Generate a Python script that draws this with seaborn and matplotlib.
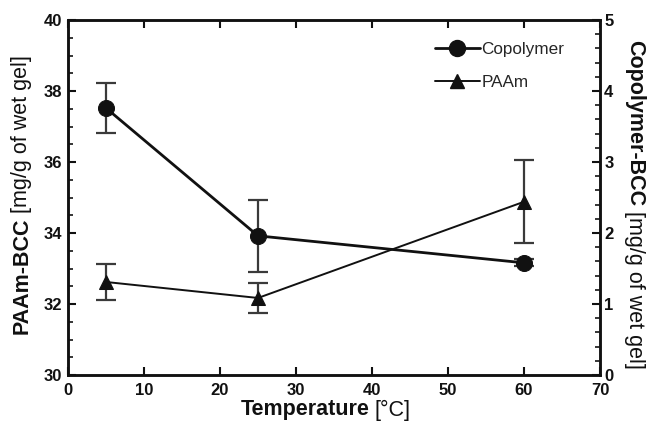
import matplotlib
matplotlib.use("Agg")
import matplotlib.pyplot as plt
import matplotlib.transforms as mtransforms
import seaborn as sns
import pandas as pd
from matplotlib.ticker import MultipleLocator
from matplotlib.lines import Line2D

sns.set_style("white")
plt.rcParams['font.family'] = ['Liberation Sans', 'DejaVu Sans']

temperature = [5, 25, 60]
paam = [32.62, 32.17, 34.88]
paam_err = [0.52, 0.42, 1.17]
copolymer = [3.76, 1.96, 1.58]
copolymer_err = [0.35, 0.51, 0.05]

df = pd.DataFrame({"T": temperature, "PAAm": paam, "Copolymer": copolymer})

W, H = 648, 428
fig = plt.figure(figsize=(W / 100, H / 100), dpi=100)
L, R, T, B = 68, 600, 20, 375
ax = fig.add_axes([L / W, 1 - B / H, (R - L) / W, (B - T) / H])
ax2 = ax.twinx()

col = "#111111"
ecol = "#3a3a3a"

# PAAm on left axis
ax.errorbar(temperature, paam, yerr=paam_err, fmt="none", ecolor=ecol,
            elinewidth=1.6, capsize=7, capthick=1.6, zorder=2)
sns.lineplot(data=df, x="T", y="PAAm", ax=ax, color=col, lw=1.4,
             marker="^", markersize=9.5, markeredgecolor=col, zorder=3)

# Copolymer on right axis
ax2.errorbar(temperature, copolymer, yerr=copolymer_err, fmt="none", ecolor=ecol,
             elinewidth=1.6, capsize=7, capthick=1.6, zorder=2)
sns.lineplot(data=df, x="T", y="Copolymer", ax=ax2, color=col, lw=2.0,
             marker="o", markersize=11.5, markeredgecolor=col, zorder=3)

ax.set_xlim(0, 70)
ax.set_ylim(30, 40)
ax2.set_ylim(0, 5)
ax.set_xlabel("")
ax.set_ylabel("")
ax2.set_ylabel("")

ax.xaxis.set_major_locator(MultipleLocator(10))
ax.yaxis.set_major_locator(MultipleLocator(2))
ax.yaxis.set_minor_locator(MultipleLocator(0.5))
ax2.yaxis.set_major_locator(MultipleLocator(1))
ax2.yaxis.set_minor_locator(MultipleLocator(0.2))

for a in (ax, ax2):
    for s in a.spines.values():
        s.set_visible(True)
        s.set_linewidth(1.8)
        s.set_color(col)

tfs = 12
ax.tick_params(axis="x", which="major", direction="in", length=6, width=1.5,
               top=True, bottom=True, labelsize=tfs, pad=5.5, colors=col)
ax.tick_params(axis="y", which="major", direction="in", length=6, width=1.5,
               left=True, right=False, labelsize=tfs, pad=4, colors=col)
ax.tick_params(axis="y", which="minor", direction="in", length=3.5, width=1.3,
               left=True, right=False)
ax2.tick_params(axis="y", which="major", direction="in", length=6, width=1.5,
                right=True, left=False, labelsize=tfs, pad=3, colors=col)
ax2.tick_params(axis="y", which="minor", direction="in", length=3.5, width=1.3,
                right=True, left=False)

fig.canvas.draw()
for lab in ax.get_xticklabels() + ax.get_yticklabels() + ax2.get_yticklabels():
    lab.set_fontweight("bold")
# lift the right-axis "0" slightly so it doesn't collide with the x "70"
zero_lab = ax2.yaxis.get_major_ticks()[0].label2
zero_lab.set_transform(zero_lab.get_transform() +
                       mtransforms.ScaledTranslation(0, 3 / 72, fig.dpi_scale_trans))

# Legend
handles = [
    Line2D([], [], color=col, lw=2.0, marker="o", markersize=11.5),
    Line2D([], [], color=col, lw=1.4, marker="^", markersize=9.5),
]
ax2.legend(handles, ["Copolymer", "PAAm"], loc="upper right", frameon=False,
           fontsize=12.3, handlelength=2.6, handletextpad=0.1, labelspacing=1.0,
           bbox_to_anchor=(0.962, 0.98))

# Axis labels (mixed weights)
def fx(px):
    return px / W

def fy(py):
    return 1 - py / H

fs = 15.5
fig.text(fx(370), fy(410), "Temperature", fontsize=fs, fontweight="bold",
         ha="right", va="center", color=col)
fig.text(fx(374), fy(410), "[°C]", fontsize=fs, ha="left", va="center", color=col)

fig.text(fx(22), fy(218), "PAAm-BCC", fontsize=fs, fontweight="bold",
         rotation=90, rotation_mode="anchor", ha="right", va="center", color=col)
fig.text(fx(22), fy(213), "[mg/g of wet gel]", fontsize=fs,
         rotation=90, rotation_mode="anchor", ha="left", va="center", color=col)

fig.text(fx(635), fy(206), "Copolymer-BCC", fontsize=fs, fontweight="bold",
         rotation=270, rotation_mode="anchor", ha="right", va="center", color=col)
fig.text(fx(635), fy(211), "[mg/g of wet gel]", fontsize=fs,
         rotation=270, rotation_mode="anchor", ha="left", va="center", color=col)

fig.savefig("out.png", dpi=100)
